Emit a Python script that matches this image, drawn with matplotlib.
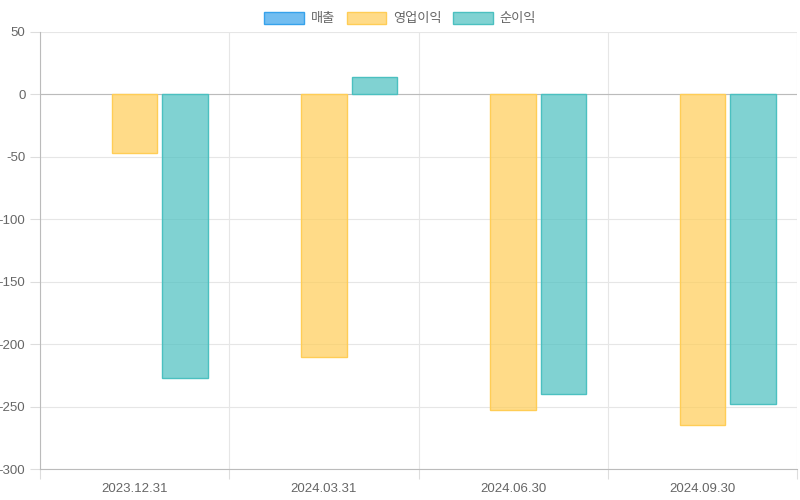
import numpy as np
import matplotlib
matplotlib.use("Agg")
from matplotlib import pyplot as plt

plt.rcParams['font.family'] = ['Liberation Sans', 'Noto Sans CJK KR', 'DejaVu Sans']

# Data
periods = ["2023.12.31", "2024.03.31", "2024.06.30", "2024.09.30"]
series_names = ["매출", "영업이익", "순이익"]
sales = [None, None, None, None]
op_income = [-47, -210, -253, -265]
net_income = [-227, 14, -240, -248]
y_ticks = [50, 0, -50, -100, -150, -200, -250, -300]

fills = [(54/255, 162/255, 235/255, 0.7), (255/255, 205/255, 86/255, 0.7), (75/255, 192/255, 192/255, 0.7)]
edges = ["#36a2eb", "#ffcd56", "#4bc0c0"]

fig = plt.figure(figsize=(8, 5), dpi=100)
ax = fig.add_axes([40/800, 1 - 469/500, 757/800, 437/500])

x = np.arange(len(periods))
slot = 0.8 / 3
bar_w = slot * 0.9
for i, vals in enumerate([sales, op_income, net_income]):
    xs = [xi - 0.4 + slot * (i + 0.5) for xi, v in zip(x, vals) if v is not None]
    hs = [v for v in vals if v is not None]
    ax.bar(xs, hs, width=bar_w, color=fills[i], edgecolor=edges[i], linewidth=1, zorder=3)

ax.set_xlim(-0.5, len(periods) - 0.5)
ax.set_ylim(-300, 50)
ax.set_yticks(y_ticks)
ax.set_yticklabels([str(t) for t in y_ticks])
ax.set_xticks(x)
ax.set_xticklabels(periods)
ax.set_xticks(np.arange(len(periods) + 1) - 0.5, minor=True)

ax.tick_params(axis='x', which='major', length=0, pad=10, labelsize=9.5, labelcolor='#666666')
ax.tick_params(axis='x', which='minor', length=7.5, color='#dddddd', width=0.8)
ax.tick_params(axis='y', length=7.5, color='#dddddd', width=0.8, pad=3, labelsize=9.5, labelcolor='#666666')

ax.grid(True, axis='y', color='#e6e6e6', linewidth=0.8, zorder=0)
ax.grid(True, axis='x', which='minor', color='#e6e6e6', linewidth=0.8, zorder=0)
ax.axhline(0, color='#bbbbbb', linewidth=0.8, zorder=2)

for s in ['top', 'right']:
    ax.spines[s].set_visible(False)
ax.spines['left'].set_color('#bbbbbb')
ax.spines['bottom'].set_color('#bbbbbb')
ax.spines['left'].set_linewidth(0.8)
ax.spines['bottom'].set_linewidth(0.8)

handles = [plt.Rectangle((0, 0), 1, 1, facecolor=fills[i], edgecolor=edges[i], linewidth=1) for i in range(3)]
fig.legend(handles, series_names, loc='upper center', bbox_to_anchor=(0.5, 1.0), ncol=3, frameon=False,
           handlelength=3.0, handleheight=1.0, handletextpad=0.5, columnspacing=0.9,
           prop={'family': ['Noto Sans CJK KR', 'DejaVu Sans'], 'size': 9.5}, labelcolor='#666666')

fig.savefig("out.png", dpi=100)
